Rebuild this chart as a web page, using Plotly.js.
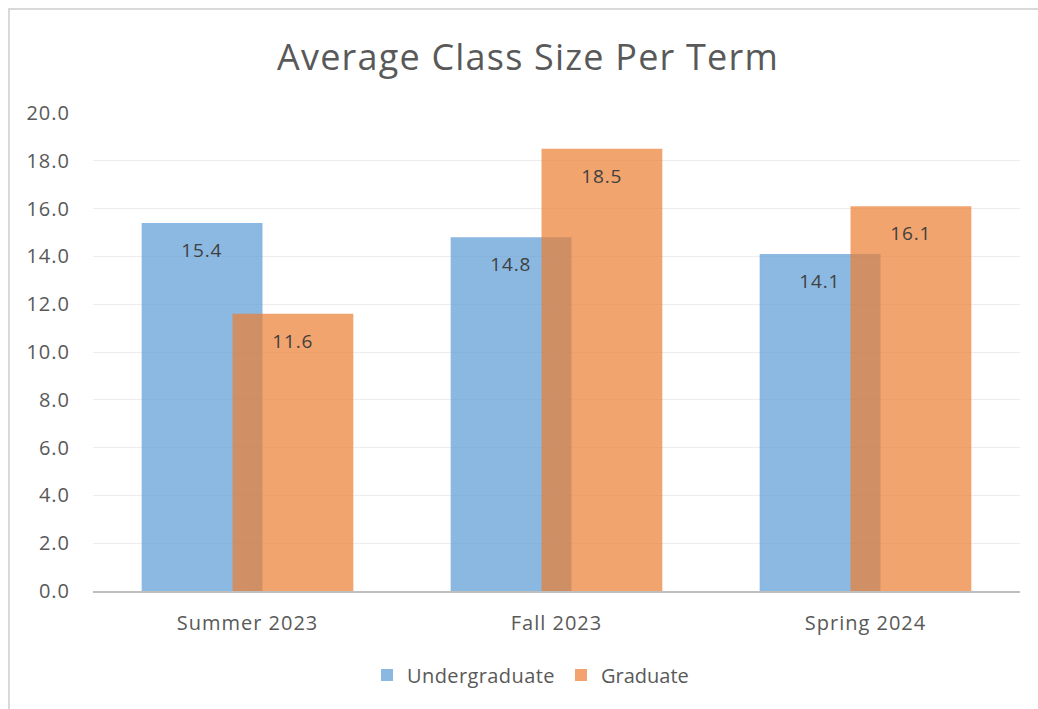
<!DOCTYPE html>
<html>
<head>
<meta charset="utf-8">
<script src="https://cdn.plot.ly/plotly-3.0.1.min.js"></script>
<style>
html,body{margin:0;padding:0;background:#fff;}
#wrap{position:relative;width:1038px;height:709px;overflow:hidden;}
#frame{position:absolute;left:8px;top:8px;width:1040px;height:720px;border-left:2px solid #d9d9d9;border-top:2px solid #d9d9d9;box-sizing:border-box;pointer-events:none;z-index:5;}
#chart{position:absolute;left:0;top:0;width:1038px;height:709px;}
#chart svg .annotation text{letter-spacing:0.9px;}
#chart svg .xtick text, #chart svg .ytick text{letter-spacing:1px;}
#chart svg .gtitle{letter-spacing:1.2px;}
#chart svg .legendtext{letter-spacing:0.4px;}
</style>
</head>
<body>
<div id="wrap"><div id="chart"></div><div id="frame"></div></div>
<script>
const terms = ["Summer 2023", "Fall 2023", "Spring 2024"];
const undergraduate = [15.4, 14.8, 14.1];
const graduate = [11.6, 18.5, 16.1];
const yTicks = [0, 2, 4, 6, 8, 10, 12, 14, 16, 18, 20];

const FONT = "'Open Sans', Lato, sans-serif";
const barW = 0.391;
const offU = -0.3425, offG = -0.0485;
const pxPerCat = 927 / 3;

const traces = [
  {type: "bar", name: "Undergraduate", x: terms, y: undergraduate, legend: "legend",
   width: barW, offset: offU, marker: {color: "#5B9BD5", line: {width: 0}}, opacity: 0.7,
   hoverinfo: "x+y"},
  {type: "bar", name: "Graduate", x: terms, y: graduate, legend: "legend2",
   width: barW, offset: offG, marker: {color: "#ED7D31", line: {width: 0}}, opacity: 0.7,
   hoverinfo: "x+y"}
];

const annotations = [];
function addLabels(vals, off) {
  vals.forEach((v, i) => {
    annotations.push({
      x: terms[i], y: v, xref: "x", yref: "y",
      xshift: (off + barW / 2) * pxPerCat, yshift: -27,
      text: v.toFixed(1), showarrow: false, xanchor: "center", yanchor: "middle",
      font: {family: FONT, size: 19, color: "#404040"}
    });
  });
}
addLabels(undergraduate, offU);
addLabels(graduate, offG);

const legendBase = {orientation: "h", xanchor: "left", xref: "container",
  y: 1 - 675 / 709, yref: "container", yanchor: "middle",
  font: {family: FONT, size: 20, color: "#595959"}, itemwidth: 30, tracegroupgap: 0,
  bgcolor: "rgba(0,0,0,0)", borderwidth: 0};

const layout = {
  width: 1038, height: 709,
  paper_bgcolor: "#ffffff", plot_bgcolor: "#ffffff",
  margin: {l: 93, r: 18, t: 113, b: 118},
  barmode: "overlay",
  title: {text: "Average Class Size Per Term", x: 528 / 1038, xanchor: "center",
          yref: "container", y: 1 - 57 / 709, yanchor: "middle",
          font: {family: FONT, size: 36, color: "#595959"}},
  xaxis: {type: "category", range: [-0.5, 2.5], showgrid: false, zeroline: false,
          showline: true, linecolor: "#BFBFBF", linewidth: 2, ticks: "",
          tickfont: {family: FONT, size: 20, color: "#595959"}, ticklabelstandoff: 13},
  yaxis: {range: [0, 20], tickvals: yTicks, ticktext: yTicks.map(v => v.toFixed(1)),
          showgrid: true, gridcolor: "#EDEDED", gridwidth: 1, zeroline: false,
          showline: false, ticks: "",
          tickfont: {family: FONT, size: 20, color: "#595959"}, ticklabelstandoff: 22},
  legend: Object.assign({}, legendBase, {x: 367 / 1038}),
  legend2: Object.assign({}, legendBase, {x: 561 / 1038}),
  annotations: annotations,
  showlegend: true
};

Plotly.newPlot("chart", traces, layout, {displayModeBar: false, staticPlot: true});
</script>
</body>
</html>
